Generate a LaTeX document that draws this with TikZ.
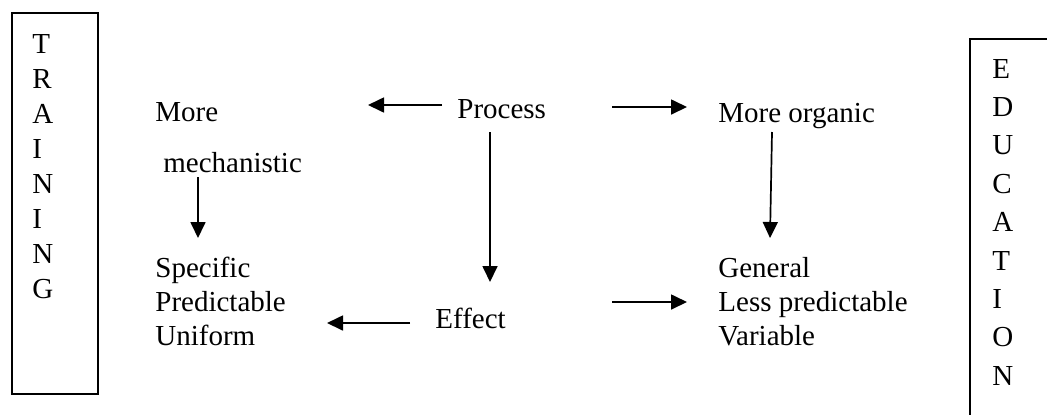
\documentclass[tikz,border=0pt]{standalone}
\usepackage{fontspec}
\setmainfont{Liberation Serif}
\usetikzlibrary{arrows.meta}
\tikzset{
  lbl/.style={anchor=base west,inner sep=0pt,font=\fontsize{14.5}{17}\selectfont},
  conn/.style={line width=0.85pt,-{Triangle[length=8pt,width=7.5pt]}},
  frame/.style={line width=1.2pt}
}
\newcommand{\stackletters}[2]{\fontsize{14.5}{#1}\selectfont\begin{tabular}[t]{@{}l@{}}#2\end{tabular}}
\begin{document}
\begin{tikzpicture}[x=0.5pt,y=-0.5pt]
\useasboundingbox (0,0) rectangle (1047,414);
\fill[white] (0,0) rectangle (1047,414);
% side frames
\draw[frame] (12,13) rectangle (98,394);
\begin{scope}
\clip (0,0) rectangle (1047,414);
\draw[frame] (970,39) rectangle (1100,460);
\end{scope}
\node[lbl] (training) at (32,53) {\stackletters{17.5}{T\\R\\A\\I\\N\\I\\N\\G}};
\node[lbl] (education) at (992,78) {\stackletters{19.2}{E\\D\\U\\C\\A\\T\\I\\O\\N}};
% texts
\node[lbl] (more) at (155,121) {More};
\node[lbl] (mech) at (163,172) {mechanistic};
\node[lbl] (spec) at (155,277) {\stackletters{17}{Specific\\Predictable\\Uniform}};
\node[lbl] (process) at (457,118) {Process};
\node[lbl] (effect) at (435,328) {Effect};
\node[lbl] (organic) at (718,122) {More organic};
\node[lbl] (general) at (718,277) {\stackletters{17}{General\\Less predictable\\Variable}};
% connector ends
\coordinate (pl1) at (442,105); \coordinate (pl2) at (368,105);
\coordinate (pr1) at (612,107); \coordinate (pr2) at (687,107);
\coordinate (md1) at (198,177); \coordinate (md2) at (198,238);
\coordinate (pd1) at (490,132); \coordinate (pd2) at (490,282);
\coordinate (od1) at (772,132); \coordinate (od2) at (770,238);
\coordinate (el1) at (410,323); \coordinate (el2) at (327,323);
\coordinate (er1) at (612,302); \coordinate (er2) at (687,302);
\draw[conn] (pl1) -- (pl2);
\draw[conn] (pr1) -- (pr2);
\draw[conn] (md1) -- (md2);
\draw[conn] (pd1) -- (pd2);
\draw[conn] (od1) -- (od2);
\draw[conn] (el1) -- (el2);
\draw[conn] (er1) -- (er2);
\end{tikzpicture}
\end{document}
